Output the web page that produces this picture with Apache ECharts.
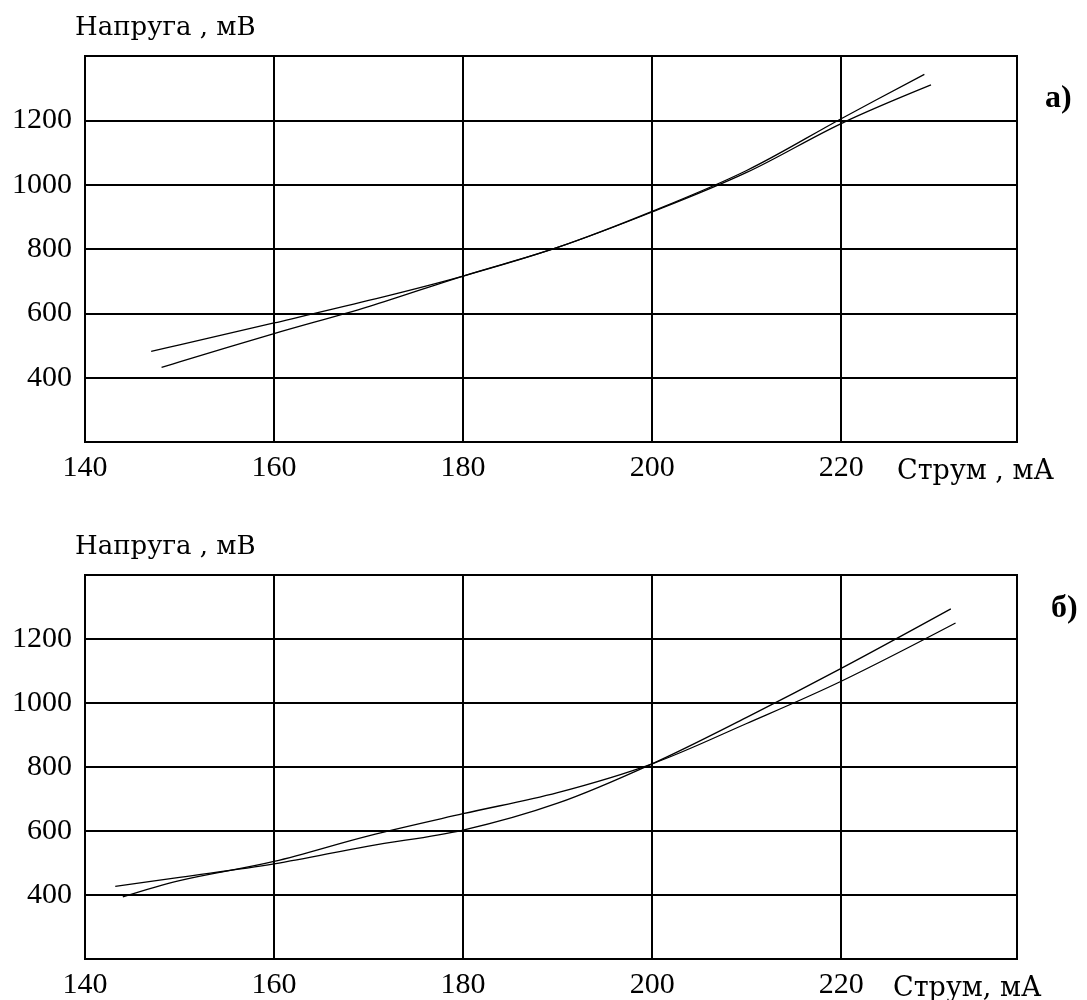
<!DOCTYPE html>
<html>
<head>
<meta charset="utf-8">
<script src="https://cdn.jsdelivr.net/npm/echarts@6/dist/echarts.min.js"></script>
<style>
html,body{margin:0;padding:0;background:#fff;}
#chart{width:1087px;height:1000px;}
</style>
</head>
<body>
<div id="chart"></div>
<script>
// ---- data ----
const xTickLabels = [140, 160, 180, 200, 220];
const yTickLabels = [400, 600, 800, 1000, 1200];

const yName = 'Напруга , мВ';
const xNameTop = 'Струм , мА';
const xNameBottom = 'Струм, мА';
const panelTop = 'а)';
const panelBottom = 'б)';

// panel а)
const aCurrent1 = [147, 150, 160, 170, 180, 190, 200, 210, 220, 229.5];
const aVoltage1 = [482, 502, 570, 640, 716, 805, 915, 1038, 1190, 1310];
const aCurrent2 = [148.1, 150, 160, 170, 180, 190, 200, 210, 220, 228.8];
const aVoltage2 = [432, 449, 537, 621, 716, 805, 917, 1044, 1205, 1343];

// panel б)
const bCurrent1 = [143.2, 150, 160, 170, 180, 190, 200, 210, 220, 231.6];
const bVoltage1 = [427, 455, 497, 553, 603, 687, 810, 955, 1108, 1294];
const bCurrent2 = [144, 150, 160, 170, 180, 190, 200, 210, 220, 232.1];
const bVoltage2 = [394, 445, 505, 585, 654, 720, 810, 936, 1068, 1250];

const zip = (xs, ys) => xs.map((x, i) => [x, ys[i]]);

// ---- styles ----
const numFont = 'Liberation Serif';
const nameFont = 'DejaVu Serif';

function makeX(gridIndex) {
  return {
    type: 'value', gridIndex: gridIndex,
    min: 140, max: 238.6, interval: 20,
    axisLine: {show: false}, axisTick: {show: false},
    splitLine: {show: true, lineStyle: {color: '#000', width: 2}},
    axisLabel: {
      margin: 11, fontSize: 30, fontFamily: numFont, color: '#000',
      formatter: v => xTickLabels.indexOf(Math.round(v * 1000) / 1000) >= 0 ? String(v) : ''
    }
  };
}
function makeY(gridIndex) {
  return {
    type: 'value', gridIndex: gridIndex,
    min: 200, max: 1400, interval: 200,
    axisLine: {show: false}, axisTick: {show: false},
    splitLine: {show: true, lineStyle: {color: '#000', width: 2}},
    axisLabel: {
      margin: 13, fontSize: 30, fontFamily: numFont, color: '#000',
      formatter: v => yTickLabels.indexOf(Math.round(v)) >= 0 ? String(v) : ''
    }
  };
}
function curve(xs, ys, idx) {
  return {
    type: 'line', xAxisIndex: idx, yAxisIndex: idx,
    data: zip(xs, ys), showSymbol: false, symbol: 'none',
    smooth: 0.35,
    lineStyle: {color: '#000', width: 1.3},
    silent: true, animation: false
  };
}
function txt(text, left, y, size, bold, font) {
  return {
    type: 'text', left: left, top: y - size * 0.6,
    style: {text: text, fill: '#000', font: (bold ? 'bold ' : '') + size + 'px "' + font + '"'}
  };
}

const chart = echarts.init(document.getElementById('chart'), null, {renderer: 'canvas'});
chart.setOption({
  animation: false,
  backgroundColor: '#fff',
  grid: [
    {left: 85, top: 56, width: 932, height: 386, show: true, borderColor: '#000', borderWidth: 2, backgroundColor: 'transparent'},
    {left: 85, top: 575, width: 932, height: 386, show: true, borderColor: '#000', borderWidth: 2, backgroundColor: 'transparent'}
  ],
  xAxis: [makeX(0), makeX(1)],
  yAxis: [makeY(0), makeY(1)],
  series: [
    curve(aCurrent1, aVoltage1, 0),
    curve(aCurrent2, aVoltage2, 0),
    curve(bCurrent1, bVoltage1, 1),
    curve(bCurrent2, bVoltage2, 1)
  ],
  graphic: [
    txt(yName, 75, 31, 26, false, nameFont),
    txt(xNameTop, 897, 475, 27, false, nameFont),
    txt(panelTop, 1045, 102, 32, true, numFont),
    txt(yName, 75, 550, 26, false, nameFont),
    txt(xNameBottom, 893, 992, 27, false, nameFont),
    txt(panelBottom, 1051, 612, 32, true, numFont)
  ]
});
</script>
</body>
</html>
